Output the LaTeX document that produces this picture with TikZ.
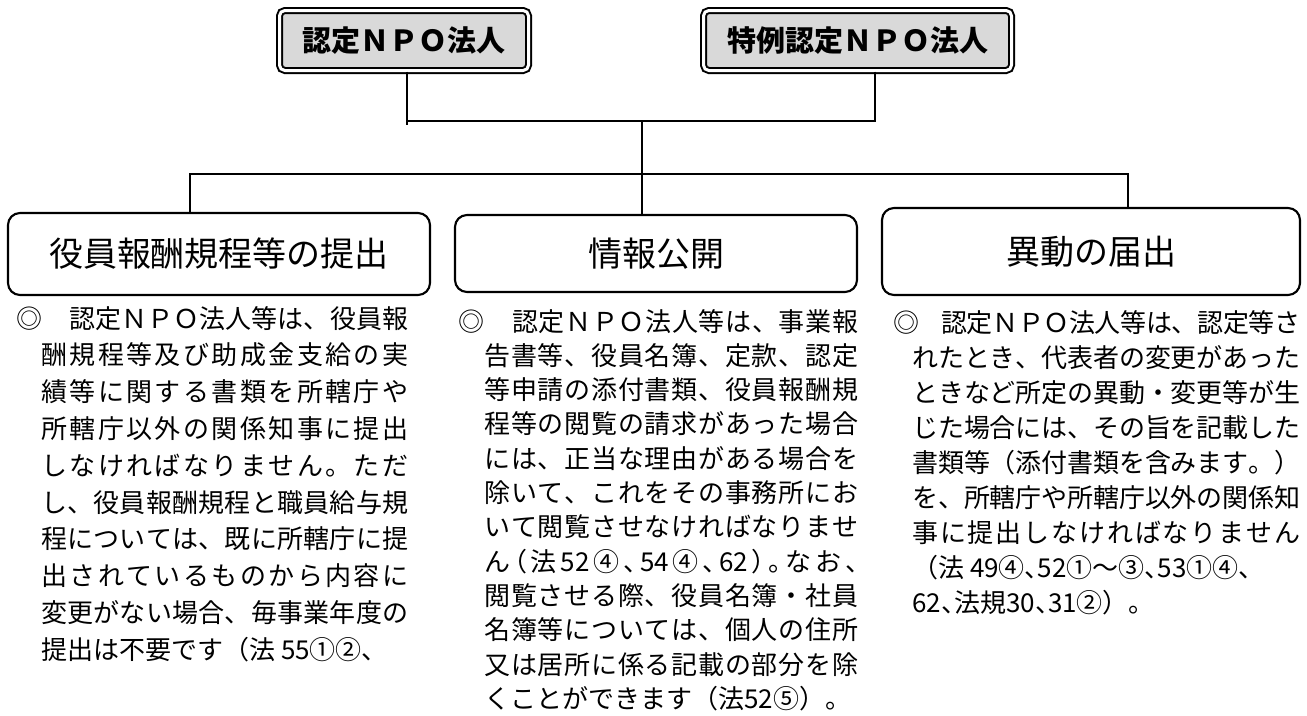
\documentclass[tikz,border=0pt]{standalone}
\usepackage{fontspec}
\setmainfont{Noto Sans CJK JP}
\definecolor{boxgray}{RGB}{217,217,217}
\newdimen\pxu \pxu=0.75pt
\newcommand\jglue{\hskip 0pt plus 1fil minus 0.1em\relax}
\ExplSyntaxOn
\NewDocumentCommand\jspread{m}{\tl_map_inline:nn {#1} {##1\jglue}\unskip}
\ExplSyntaxOff
\newcommand\JL[2]{\makebox[#1\pxu][s]{\jspread{#2}}}
\newcommand\HJL[2]{\makebox[#1\pxu][s]{\addfontfeature{RawFeature=+halt}\jspread{#2}}}
\newcommand\hph[1]{{\addfontfeature{RawFeature=+halt}#1}}
\tikzset{
  topbox/.style={draw, double=white, double distance=2.25pt, line width=1.5pt,
    fill=boxgray, rounded corners=4pt, minimum height=45pt, inner sep=0pt,
    font=\fontsize{21.75pt}{24pt}\selectfont\bfseries},
  headbox/.style={draw, line width=1.6pt, rounded corners=9pt, inner sep=0pt, fill=white,
    font=\fontsize{25.5pt}{28pt}\selectfont},
  body/.style={anchor=base west, inner sep=0pt, font=\fontsize{19.5pt}{24pt}\selectfont},
  conn/.style={line width=1.5pt}
}
\begin{document}
\begin{tikzpicture}[x=0.75pt, y=-0.75pt]
\fill[white] (0,0) rectangle (1307,715);
\useasboundingbox (0,0) rectangle (1307,715);

% top boxes
\node[topbox, minimum width=186.75pt] (t1) at (404,40.5) {認定ＮＰＯ法人};
\node[topbox, minimum width=231pt] (t2) at (857.5,40.5) {特例認定ＮＰＯ法人};

% heading boxes
\node[headbox, minimum width=316.5pt, minimum height=61.5pt] (h1) at (219,254) {役員報酬規程等の提出};
\node[headbox, minimum width=301.5pt, minimum height=57.75pt] (h2) at (656,253.5) {情報公開};
\node[headbox, minimum width=313.5pt, minimum height=65.25pt] (h3) at (1091,251.5) {異動の届出};

% connectors
\coordinate (ja) at (407,125);
\coordinate (jb) at (875,121);
\coordinate (jm) at (642,121);
\coordinate (jl) at (190,174);
\coordinate (jr) at (1128,174);
\draw[conn] (ja |- t1.south) -- (ja);
\draw[conn] (jb |- t2.south) -- (jb) -- (ja |- jb);
\draw[line width=1.1pt] (jm) -- (jm |- h2.north);
\draw[conn] (jl |- h1.north) -- (jl) -- (jr) -- (jr |- h3.north);

% column 1
\node[body] (a0) at (16,328) {◎};
\node[body] (a1) at (69,328) {\JL{339}{認定ＮＰＯ法人等は、役員報}};
\node[body] (a2) at (41,364.8) {\JL{367}{酬規程等及び助成金支給の実}};
\node[body] (a3) at (41,401.6) {\JL{367}{績等に関する書類を所轄庁や}};
\node[body] (a4) at (41,438.4) {\JL{367}{所轄庁以外の関係知事に提出}};
\node[body] (a5) at (41,475.2) {\JL{367}{しなければなりません。ただ}};
\node[body] (a6) at (41,512) {\JL{367}{し、役員報酬規程と職員給与規}};
\node[body] (a7) at (41,548.8) {\JL{367}{程については、既に所轄庁に提}};
\node[body] (a8) at (41,585.6) {\JL{367}{出されているものから内容に}};
\node[body] (a9) at (41,622.4) {\JL{367}{変更がない場合、毎事業年度の}};
\node[body] (a10) at (41,659.2) {提出は不要です（法\ 55①②、};

% column 2
\node[body] (b0) at (458,331) {◎};
\node[body] (b1) at (512,331) {\JL{346}{認定ＮＰＯ法人等は、事業報}};
\node[body] (b2) at (484,365.3) {\JL{374}{告書等、役員名簿、定款、認定}};
\node[body] (b3) at (484,399.6) {\JL{374}{等申請の添付書類、役員報酬規}};
\node[body] (b4) at (484,433.9) {\JL{374}{程等の閲覧の請求があった場合}};
\node[body] (b5) at (484,468.2) {\JL{374}{には、正当な理由がある場合を}};
\node[body] (b6) at (484,502.5) {\JL{374}{除いて、これをその事務所にお}};
\node[body] (b7) at (484,536.8) {\JL{374}{いて閲覧させなければなりませ}};
\node[body] (b8) at (484,571.1) {\HJL{374}{ん（法{52}④、{54}④、{62}）。なお、}};
\node[body] (b9) at (484,605.4) {\JL{374}{閲覧させる際、役員名簿・社員}};
\node[body] (b10) at (484,639.7) {\JL{374}{名簿等については、個人の住所}};
\node[body] (b11) at (484,674) {\JL{374}{又は居所に係る記載の部分を除}};
\node[body] (b12) at (484,708.3) {くことができます（法52⑤）。};

% column 3
\node[body] (c0) at (893,332) {◎};
\node[body] (c1) at (941,332) {\JL{359}{認定ＮＰＯ法人等は、認定等さ}};
\node[body] (c2) at (912,367) {\JL{388}{れたとき、代表者の変更があった}};
\node[body] (c3) at (912,402) {\JL{388}{ときなど所定の異動・変更等が生}};
\node[body] (c4) at (912,437) {\JL{388}{じた場合には、その旨を記載した}};
\node[body] (c5) at (912,472) {\JL{388}{書類等（添付書類を含みます。）}};
\node[body] (c6) at (912,507) {\JL{388}{を、所轄庁や所轄庁以外の関係知}};
\node[body] (c7) at (912,542) {\JL{388}{事に提出しなければなりません}};
\node[body] (c8) at (912,577) {（法\ 49④\hph{、}52①～③\hph{、}53①④\hph{、}};
\node[body] (c9) at (912,612) {62\hph{、}法規30\hph{、}31②）。};
\end{tikzpicture}
\end{document}
